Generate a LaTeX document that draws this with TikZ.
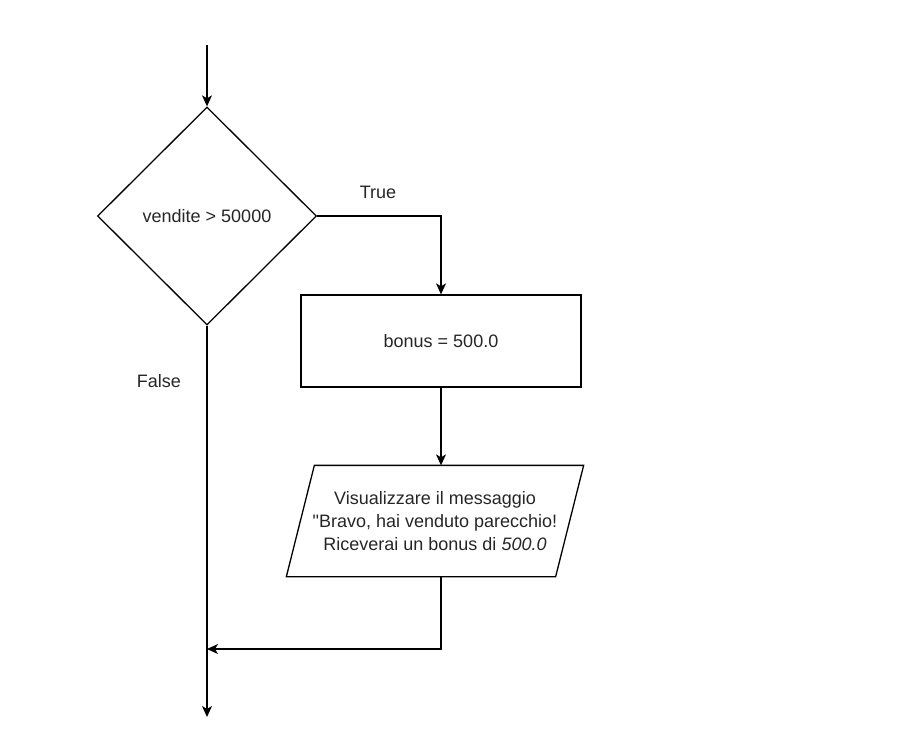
\documentclass[tikz,border=0pt]{standalone}
\usepackage{fontspec}
\setmainfont{Liberation Sans}
\usetikzlibrary{arrows.meta,shapes.geometric}
\begin{document}
\begin{tikzpicture}[x=1pt,y=-1pt,
  line width=1.3pt,
  every node/.style={font=\fontsize{18}{23}\selectfont, text=black!85},
  flow/.style={draw=black, -{Stealth[length=11pt,width=10pt,inset=3pt]}},
  decision/.style={draw=black, diamond, aspect=1, minimum width=219pt, minimum height=218pt, inner sep=0pt},
  process/.style={draw=black, rectangle, minimum width=280pt, minimum height=92pt},
  io/.style={rectangle, minimum width=268pt, minimum height=110pt, align=center, inner sep=0pt},
  lbl/.style={inner sep=0pt}]
  \useasboundingbox (0,0) rectangle (911,734);

  % start and decision
  \coordinate (start) at (207,45);
  \node[decision] (cond) at (207,216) {vendite > 50000};
  \draw[flow] (start) -- (cond.north);

  % true branch
  \node[process] (bonus) at (441,341) {bonus = 500.0};
  \draw[flow] (cond.east) -| (bonus.north);
  \node[lbl] (truelbl) at (378,192) {True};

  % output message (parallelogram around the text node)
  \node[io] (msg) at (435,521) {Visualizzare il messaggio\\\textquotedbl Bravo, hai venduto parecchio!\\Riceverai un bonus di \textit{500.0}};
  \draw[draw=black] ([xshift=-14pt]msg.south west) -- ([xshift=14pt]msg.north west)
    -- ([xshift=14pt]msg.north east) -- ([xshift=-14pt]msg.south east) -- cycle;
  \draw[flow] (bonus.south) -- (bonus.south |- msg.north);

  % merge and exit
  \coordinate (endpt) at (207,717);
  \coordinate (merge) at (207,649);
  \draw[flow] (cond.south) -- (endpt);
  \draw[flow] (bonus.south |- msg.south) |- (merge);
  \node[lbl] (falselbl) at (159,381) {False};
\end{tikzpicture}
\end{document}
